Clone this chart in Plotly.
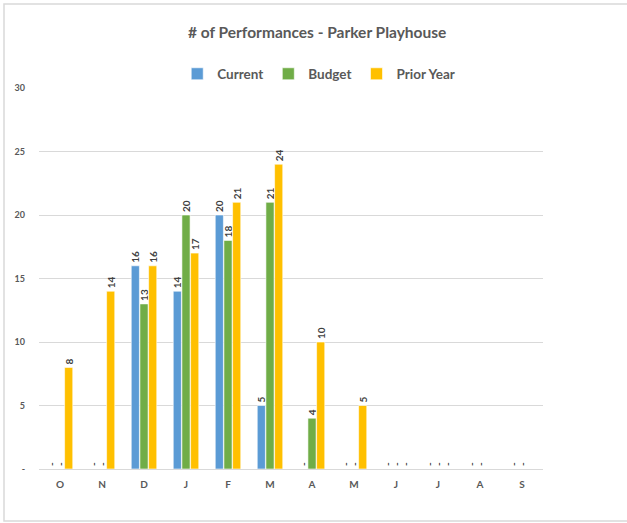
import plotly.graph_objects as go

months = ["O", "N", "D", "J", "F", "M", "A", "M", "J", "J", "A", "S"]
current = [0, 0, 16, 14, 20, 5, 0, 0, 0, 0, 0, 0]
budget = [0, 0, 13, 20, 18, 21, 4, 0, 0, 0, 0, 0]
prior_year = [8, 14, 16, 17, 21, 24, 10, 5, 0, 0, None, None]

y_ticks = [0, 5, 10, 15, 20, 25, 30]
y_tick_text = ["-", "5", "10", "15", "20", "25", "30"]

series = [
    ("Current", current, "#5B9BD5"),
    ("Budget", budget, "#70AD47"),
    ("Prior Year", prior_year, "#FFC000"),
]

FONT = "Lato, Calibri, Carlito, sans-serif"
x_idx = list(range(len(months)))


def label(v):
    if v is None:
        return ""
    return "-" if v == 0 else str(v)


fig = go.Figure()
for name, vals, color in series:
    fig.add_trace(go.Bar(
        name=name,
        x=x_idx,
        y=vals,
        marker=dict(color=color, line=dict(color="white", width=0.6)),
        text=[label(v) for v in vals],
        textposition="outside",
        textangle=-90,
        cliponaxis=False,
        textfont=dict(family=FONT, size=10, color="#404040", weight="bold"),
    ))

fig.update_layout(
    width=627,
    height=523,
    barmode="group",
    bargap=0.38,
    bargroupgap=0.06,
    uniformtext=dict(minsize=10, mode="show"),
    paper_bgcolor="white",
    plot_bgcolor="white",
    margin=dict(l=39, r=84, t=88, b=54),
    title=dict(
        text="<b># of Performances - Parker Playhouse</b>",
        x=0.552, xref="paper", xanchor="center",
        y=1 - 33 / 523, yref="container", yanchor="middle",
        font=dict(family=FONT, size=15.5, color="#595959"),
    ),
    legend=dict(
        orientation="h",
        x=0.555, xref="paper", xanchor="center",
        y=1 + 14 / 381, yanchor="middle",
        font=dict(family=FONT, size=13.5, color="#595959", weight="bold"),
        itemwidth=30,
        traceorder="normal",
        itemclick=False,
    ),
    font=dict(family=FONT, color="#595959"),
    showlegend=True,
    xaxis=dict(
        tickmode="array",
        tickvals=x_idx,
        ticktext=months,
        range=[-0.5, len(months) - 0.5],
        showgrid=False,
        showline=True,
        linecolor="#D9D9D9",
        linewidth=1,
        ticks="",
        tickfont=dict(family=FONT, size=10, color="#595959", weight="bold"),
        ticklabelstandoff=6,
    ),
    yaxis=dict(
        range=[0, 30],
        tickmode="array",
        tickvals=y_ticks,
        ticktext=y_tick_text,
        showgrid=True,
        gridcolor="#D9D9D9",
        gridwidth=1,
        zeroline=False,
        showline=False,
        ticks="",
        tickfont=dict(family=FONT, size=9, color="#595959", weight="bold"),
        ticklabelstandoff=13,
    ),
    shapes=[
        dict(
            type="rect", xref="paper", yref="paper",
            x0=(4 - 39) / 504, x1=(660 - 39) / 504,
            y0=(469 - 521) / 381, y1=(469 - 4) / 381,
            line=dict(color="#D9D9D9", width=1.5),
            fillcolor="rgba(0,0,0,0)",
            layer="below",
        )
    ],
)

fig.write_html("out.html")
